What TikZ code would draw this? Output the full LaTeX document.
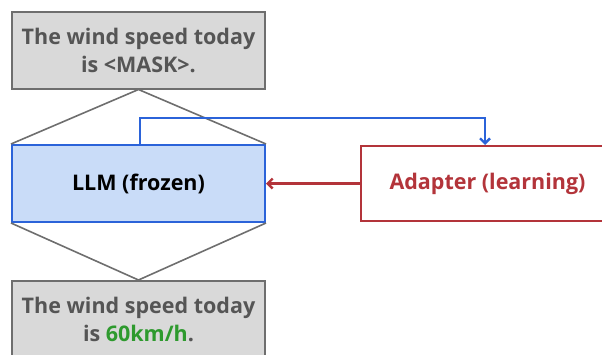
\documentclass[tikz,border=0pt]{standalone}
\usepackage{fontspec}
\setmainfont{Open Sans}
\usetikzlibrary{positioning,arrows.meta}
\definecolor{boxgray}{HTML}{D9D9D9}
\definecolor{linegray}{HTML}{6E6E6E}
\definecolor{textgray}{HTML}{555555}
\definecolor{llmblue}{HTML}{C9DCF8}
\definecolor{edgeblue}{HTML}{2B63D9}
\definecolor{adred}{HTML}{B3343A}
\definecolor{okgreen}{HTML}{2E9A2E}
\tikzset{
  sentence/.style={draw=linegray,line width=2pt,fill=boxgray,minimum width=253pt,minimum height=77pt,
    align=center,text=textgray,font=\fontsize{21.5}{28}\selectfont\bfseries,inner sep=0pt},
  model/.style={draw=edgeblue,line width=2pt,fill=llmblue,minimum width=253pt,minimum height=77pt,
    font=\fontsize{21.5}{25}\selectfont\bfseries,inner sep=0pt},
  adapter/.style={draw=adred,line width=2pt,fill=white,minimum width=253pt,minimum height=75pt,
    text=adred,font=\fontsize{21.5}{25}\selectfont\bfseries,inner sep=0pt},
}
\begin{document}
\begin{tikzpicture}[x=1pt,y=-1pt]
\useasboundingbox (0,0) rectangle (602,354);

\node[sentence] (input) at (138.5,50) {The wind speed today\\is <MASK>.};
\node[model] (llm) at (138.5,183.5) {LLM (frozen)};
\node[adapter] (adapter) at (487.5,183.5) {Adapter (learning)};
\node[sentence,anchor=north] (output) at (138.5,280) {The wind speed today\\is \textcolor{okgreen}{60km/h}.};

\draw[linegray,line width=1.6pt] (llm.north west)--(input.south)--(llm.north east);
\draw[linegray,line width=1.6pt] (llm.south west)--(output.north)--(llm.south east);

\draw[edgeblue,line width=2.4pt,-{Straight Barb[length=5pt,width=10pt]}] ([xshift=1.5pt]llm.north) |- (485,118) -- (adapter.north -| 485,0);
\draw[adred,line width=2.4pt,-{Straight Barb[length=5pt,width=10pt]}] (adapter.west) -- (llm.east);
\end{tikzpicture}
\end{document}
